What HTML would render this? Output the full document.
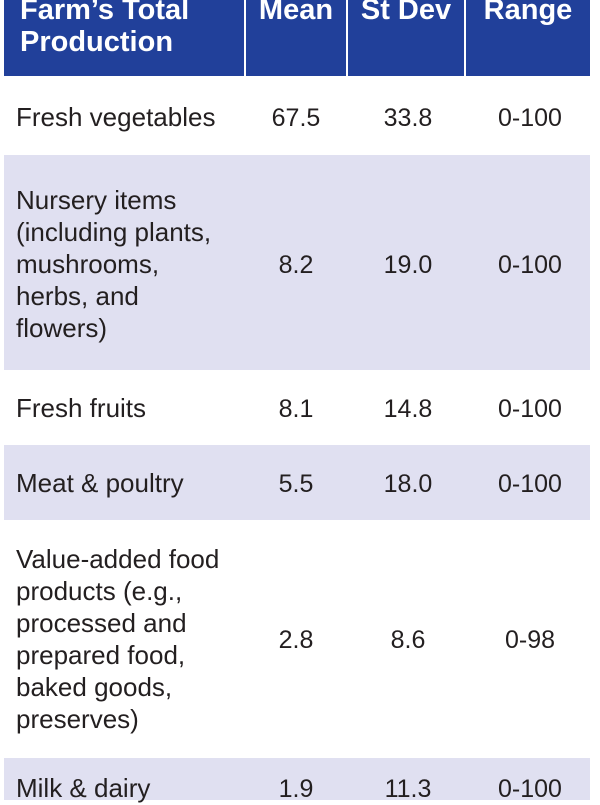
<!DOCTYPE html>
<html><head><meta charset="utf-8"><style>
*{margin:0;padding:0;box-sizing:border-box}
body{width:600px;height:800px;overflow:hidden;background:#fff;position:relative;font-family:"Liberation Sans",sans-serif;color:#231f20}
.h{position:absolute;top:0;height:76px;background:#21409a;color:#fff;font-weight:bold;font-size:29px;line-height:32px}
.r{position:absolute;left:4px;width:586px}
.l{background:#e0e0f1}
.t{position:absolute;left:16px;font-size:26px;line-height:32px;white-space:nowrap}
.n{position:absolute;font-size:25px;line-height:32px;text-align:center;margin-top:1px}
</style></head><body>
<div class="h" style="left:4px;width:240px"><div style="position:absolute;left:16px;top:-6px;white-space:nowrap">Farm’s Total<br>Production</div></div>
<div class="h" style="left:246px;width:100px"><div style="position:absolute;left:-5px;width:110px;text-align:center;top:-6px">Mean</div></div>
<div class="h" style="left:348px;width:116px"><div style="position:absolute;left:0;width:116px;text-align:center;top:-6px">St Dev</div></div>
<div class="h" style="left:466px;width:124px"><div style="position:absolute;left:0;width:124px;text-align:center;top:-6px">Range</div></div>

<div class="r l" style="top:155px;height:215px"></div>
<div class="r l" style="top:445px;height:75px"></div>
<div class="r l" style="top:758px;height:42px"></div>

<div class="t" style="top:101px">Fresh vegetables</div>
<div class="n" style="left:246px;width:100px;top:101px">67.5</div>
<div class="n" style="left:348px;width:120px;top:101px">33.8</div>
<div class="n" style="left:466px;width:128px;top:101px">0-100</div>

<div class="t" style="top:184px">Nursery items<br>(including plants,<br>mushrooms,<br>herbs, and<br>flowers)</div>
<div class="n" style="left:246px;width:100px;top:248px">8.2</div>
<div class="n" style="left:348px;width:120px;top:248px">19.0</div>
<div class="n" style="left:466px;width:128px;top:248px">0-100</div>

<div class="t" style="top:392px">Fresh fruits</div>
<div class="n" style="left:246px;width:100px;top:392px">8.1</div>
<div class="n" style="left:348px;width:120px;top:392px">14.8</div>
<div class="n" style="left:466px;width:128px;top:392px">0-100</div>

<div class="t" style="top:467px">Meat &amp; poultry</div>
<div class="n" style="left:246px;width:100px;top:467px">5.5</div>
<div class="n" style="left:348px;width:120px;top:467px">18.0</div>
<div class="n" style="left:466px;width:128px;top:467px">0-100</div>

<div class="t" style="top:543px">Value-added food<br>products (e.g.,<br>processed and<br>prepared food,<br>baked goods,<br>preserves)</div>
<div class="n" style="left:246px;width:100px;top:623px">2.8</div>
<div class="n" style="left:348px;width:120px;top:623px">8.6</div>
<div class="n" style="left:466px;width:128px;top:623px">0-98</div>

<div class="t" style="top:772px">Milk &amp; dairy</div>
<div class="n" style="left:246px;width:100px;top:772px">1.9</div>
<div class="n" style="left:348px;width:120px;top:772px">11.3</div>
<div class="n" style="left:466px;width:128px;top:772px">0-100</div>
</body></html>
